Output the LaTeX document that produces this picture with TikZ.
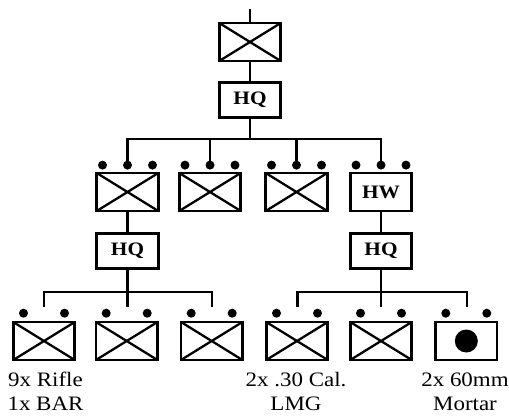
\documentclass[tikz,border=0pt]{standalone}
\usepackage{fontspec}
\setmainfont{Liberation Serif}
\newfontfamily\unitfont[FakeStretch=1.12]{Liberation Serif}
\usetikzlibrary{calc}

\begin{document}
\begin{tikzpicture}[x=1pt,y=-1pt,
  unit/.style={draw, line width=2.8pt, minimum width=61.5pt, minimum height=38pt, inner sep=0pt},
  inf/.style={unit, path picture={\draw[line width=2.3pt]
      (path picture bounding box.north west) -- (path picture bounding box.south east)
      (path picture bounding box.north east) -- (path picture bounding box.south west);}},
  hqfont/.style={font=\unitfont\bfseries\fontsize{19}{19}\selectfont},
  hqbox/.style={unit, minimum height=35pt, hqfont},
  dot/.style={circle, fill, inner sep=0pt, minimum size=9pt},
  link/.style={line width=2.3pt},
  lbl/.style={align=center, inner sep=0pt, font=\unitfont\fontsize{20.5}{23.3}\selectfont},
]
\useasboundingbox (0,0) rectangle (509,416);

% company
\node[inf] (co) at (250,42) {};
\node[hqbox] (cohq) at (250,100) {HQ};
\coordinate (tick) at (250,9);
\draw[link] (tick) -- (co.north);
\draw[link] (co.south) -- (cohq.north);

% platoons
\node[inf] (p1) at (127.5,192) {};
\node[inf] (p2) at (210,192) {};
\node[inf] (p3) at (296.5,192) {};
\node[unit, hqfont] (p4) at (381,192) {HW};
\foreach \p in {p1,p2,p3,p4}{
  \node[dot] (\p l) at ($(\p.north)+(-25,-6.5)$) {};
  \node[dot] (\p m) at ($(\p.north)+(0,-6.5)$) {};
  \node[dot] (\p r) at ($(\p.north)+(25,-6.5)$) {};
}
\coordinate (j1) at (250,139);
\draw[link] (cohq.south) -- (j1);
\draw[link] (p1m.center) |- (j1) -| (p4m.center);
\draw[link] (p2m.center) -- (p2m |- j1);
\draw[link] (p3m.center) -- (p3m |- j1);

% platoon headquarters
\node[hqbox] (hqa) at (127.5,251) {HQ};
\node[hqbox] (hqb) at (381,251) {HQ};
\draw[link] (p1.south) -- (hqa.north);
\draw[link] (p4.south) -- (hqb.north);

% squads and sections
\node[inf] (s1) at (44,341) {};
\node[inf] (s2) at (126.7,341) {};
\node[inf] (s3) at (211.7,341) {};
\node[inf] (s4) at (297,341) {};
\node[inf] (s5) at (381,341) {};
\node[unit] (s6) at (466.3,341) {};
\node[dot, minimum size=23pt] (mortar) at (s6.center) {};
\foreach \s in {s1,s2,s3,s4,s5,s6}{
  \node[dot] (\s l) at ($(\s.north)+(-20.5,-7.4)$) {};
  \node[dot] (\s r) at ($(\s.north)+(20.5,-7.4)$) {};
}

\coordinate (ja) at (127.5,292);
\coordinate (ea1) at (44,307);
\coordinate (ea2) at (127.5,307);
\coordinate (ea3) at (212,307);
\draw[link] (hqa.south) -- (ea2);
\draw[link] (ea1) |- (ja) -| (ea3);

\coordinate (jb) at (381,292);
\coordinate (eb1) at (297.5,307);
\coordinate (eb2) at (381,307);
\coordinate (eb3) at (467,307);
\draw[link] (hqb.south) -- (eb2);
\draw[link] (eb1) |- (jb) -| (eb3);

% weapon notes (anchored at the baseline of the second line)
\node[lbl, anchor=base] (t1) at (45.5,410) {9x Rifle\\1x BAR};
\node[lbl, anchor=base] (t4) at (296,410) {2x .30 Cal.\\LMG};
\node[lbl, anchor=base] (t6) at (465,410) {2x 60mm\\Mortar};
\end{tikzpicture}
\end{document}
